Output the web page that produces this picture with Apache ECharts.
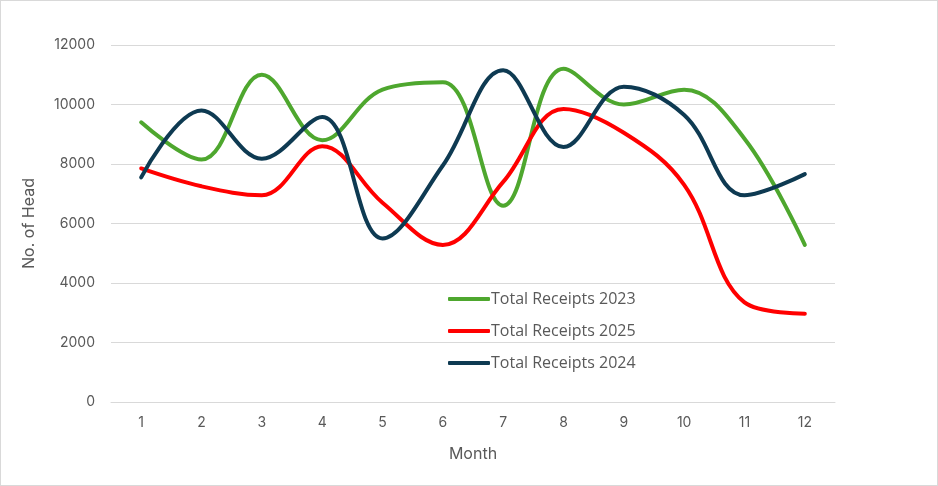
<!DOCTYPE html>
<html>
<head>
<meta charset="utf-8">
<script src="https://cdn.jsdelivr.net/npm/echarts@6/dist/echarts.min.js"></script>
<style>
html,body{margin:0;padding:0;background:#fff;}
#c{width:938px;height:486px;box-sizing:border-box;border:1px solid #d9d9d9;}
</style>
</head>
<body>
<div id="c"></div>
<script>
const months = ['1','2','3','4','5','6','7','8','9','10','11','12'];
const yTicks = [0, 2000, 4000, 6000, 8000, 10000, 12000];
const receipts2023 = [9400, 8150, 11000, 8800, 10500, 10750, 6600, 11200, 10000, 10500, 8850, 5280];
const receipts2025 = [7850, 7250, 6950, 8600, 6700, 5280, 7400, 9850, 9050, 7300, 3350, 2970];
const receipts2024 = [7550, 9800, 8180, 9580, 5500, 7950, 11150, 8570, 10600, 9650, 6950, 7660];

const chart = echarts.init(document.getElementById('c'));
const font = 'Inter, "Open Sans", "Noto Sans", sans-serif';
function line(name, data, color) {
  return {
    name, type: 'line', data, smooth: 0.38, symbol: 'none',
    lineStyle: { width: 4, color, cap: 'round', join: 'round' },
    itemStyle: { color }
  };
}
chart.setOption({
  animation: false,
  textStyle: { fontFamily: font },
  grid: { left: 110, right: 102, top: 44, bottom: 83 },
  legend: {
    orient: 'vertical', left: 442, top: 285, itemGap: 16,
    itemWidth: 42, itemHeight: 4, icon: 'roundRect',
    textStyle: { color: '#595959', fontSize: 16, fontFamily: '"Open Sans", sans-serif', padding: [0, 0, 0, -4] },
    data: ['Total Receipts 2023', 'Total Receipts 2025', 'Total Receipts 2024']
  },
  xAxis: {
    type: 'category', data: months, boundaryGap: true,
    name: 'Month', nameLocation: 'middle', nameGap: 44,
    nameTextStyle: { color: '#595959', fontSize: 16, fontFamily: font },
    axisLine: { lineStyle: { color: '#d9d9d9', width: 1 } },
    axisTick: { show: false },
    axisLabel: { color: '#595959', fontSize: 14, margin: 14, fontFamily: font }
  },
  yAxis: {
    type: 'value', min: yTicks[0], max: yTicks[yTicks.length - 1], interval: 2000,
    name: 'No. of Head', nameLocation: 'middle', nameGap: 74, nameRotate: 90,
    nameTextStyle: { color: '#595959', fontSize: 16, fontFamily: font },
    axisLine: { show: false }, axisTick: { show: false },
    axisLabel: { color: '#595959', fontSize: 14, margin: 16, fontFamily: font,
      formatter: v => String(v) },
    splitLine: { lineStyle: { color: '#d9d9d9', width: 1 } }
  },
  series: [
    line('Total Receipts 2023', receipts2023, '#4ea72e'),
    line('Total Receipts 2025', receipts2025, '#ff0000'),
    line('Total Receipts 2024', receipts2024, '#0e3a52')
  ]
});
</script>
</body>
</html>
